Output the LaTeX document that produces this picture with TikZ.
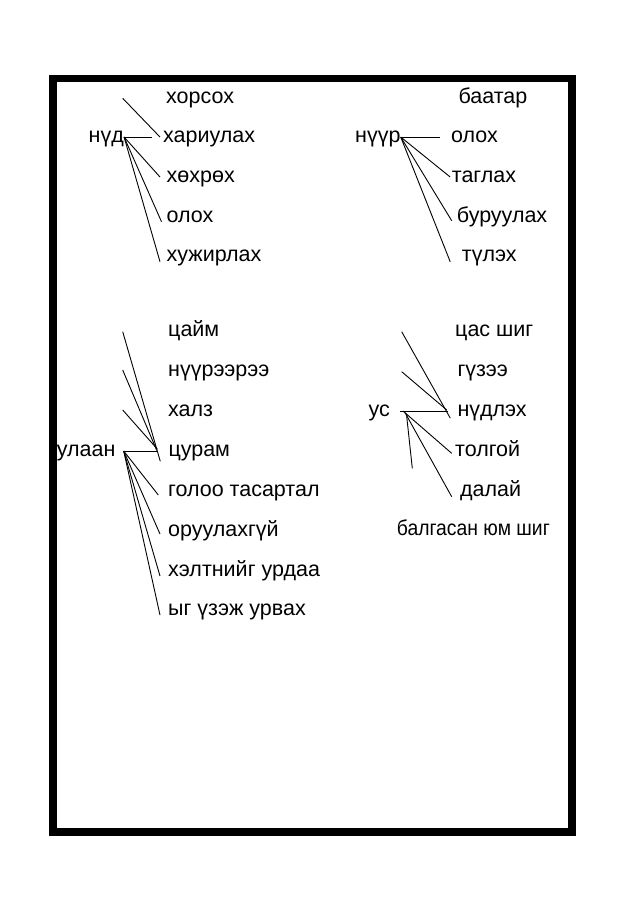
\documentclass[tikz,border=0pt]{standalone}
\usepackage{fontspec}
\setmainfont{Liberation Sans}
\usetikzlibrary{positioning}

\tikzset{
    word/.style={inner sep=0pt, anchor=base west},
    frame/.style={line width=7.5pt},
    link/.style={line width=0.9pt}
}

\begin{document}
\fontsize{21.5}{25}\selectfont
\begin{tikzpicture}[x=1pt, y=-1pt]
            \useasboundingbox (0, 0) rectangle (638, 905);
            \draw[frame] (53, 78.5) rectangle (572, 832);

            % нүд
            \node[word] (nud) at (88.5, 142.7) {нүд};
            \node[word] (xorsox) at (166, 103.3) {хорсох};
            \node[word] (xariulax) at (163, 142.7) {хариулах};
            \node[word] (xoxrox) at (166.5, 182.7) {хөхрөх};
            \node[word] (oloxA) at (166.5, 222.7) {олох};
            \node[word] (xujirlax) at (166.5, 261.7) {хужирлах};
            \coordinate (nudfree) at (122.7, 98.3);

            \draw[link] (nud.mid east) -- ([xshift=-11pt]xariulax.mid west);
            \draw[link] (nudfree) -- ([xshift=-3pt]xariulax.mid west);
            \draw[link] (nud.mid east) -- ([xshift=-6.5pt]xoxrox.mid west);
            \draw[link] (nud.mid east) -- ([xshift=-5pt, yshift=1pt]oloxA.base west);
            \draw[link] (nud.mid east) -- ([xshift=-6.5pt]xujirlax.base west);

            % нүүр
            \node[word] (nuur) at (355, 142.7) {нүүр};
            \node[word] (baatar) at (458.3, 103.3) {баатар};
            \node[word] (oloxB) at (451, 142.7) {олох};
            \node[word] (taglax) at (451.7, 182.7) {таглах};
            \node[word] (buruulax) at (456.7, 222.7) {буруулах};
            \node[word] (tulex) at (461.7, 261.7) {түлэх};

            \draw[link] (nuur.mid east) -- ([xshift=-11pt]oloxB.mid west);
            \draw[link] (nuur.mid east) -- ([xshift=-1.5pt]taglax.mid west);
            \draw[link] (nuur.mid east) -- ([xshift=-5pt, yshift=2pt]buruulax.base west);
            \draw[link] (nuur.mid east) -- ([xshift=-11.5pt]tulex.base west);

            % улаан
            \node[word] (ulaan) at (56.7, 456.7) {улаан};
            \node[word] (caim) at (168, 336.7) {цайм};
            \node[word] (nuureeree) at (168, 376.3) {нүүрээрээ};
            \node[word] (xalz) at (168, 416.7) {халз};
            \node[word] (curam) at (168.3, 456.7) {цурам};
            \node[word] (goloo) at (168, 496) {голоо тасартал};
            \node[word] (oruulax) at (168, 536) {оруулахгүй};
            \node[word] (xeltnii) at (168, 576) {хэлтнийг урдаа};
            \node[word] (yg) at (168, 615) {ыг үзэж урвах};
            \coordinate (ulaanr) at ([xshift=8pt]ulaan.mid east);
            \coordinate (ulfreeA) at (122.7, 331.7);
            \coordinate (ulfreeB) at (122.7, 370);
            \coordinate (ulfreeC) at (122.7, 410);

            \draw[link] (ulaanr) -- ([xshift=-11.5pt]curam.mid west);
            \draw[link] (ulfreeA) -- ([xshift=-8pt]curam.south west);
            \draw[link] (ulfreeB) -- ([xshift=-11.5pt, yshift=0.5pt]curam.mid west);
            \draw[link] (ulfreeC) -- ([xshift=-11pt, yshift=2pt]curam.mid west);
            \draw[link] (ulaanr) -- ([xshift=-9.7pt, yshift=1pt]goloo.base west);
            \draw[link] (ulaanr) -- ([xshift=-8pt, yshift=2pt]oruulax.base west);
            \draw[link] (ulaanr) -- ([xshift=-8pt]xeltnii.base west);
            \draw[link] (ulaanr) -- ([xshift=-8pt]yg.base west);

            % ус
            \node[word] (us) at (368.3, 416.7) {ус};
            \node[word] (cas) at (455, 336.7) {цас шиг};
            \node[word] (guzee) at (457.3, 376.7) {гүзээ};
            \node[word] (nudlex) at (457.3, 416.7) {нүдлэх};
            \node[word] (tolgoi) at (455, 456) {толгой};
            \node[word] (dalai) at (460, 496) {далай};
            \node[word, xscale=0.9, transform shape] (balgasan) at (396.7, 535.3) {балгасан юм шиг};
            \coordinate (usr) at ([xshift=10pt]us.mid east);
            \coordinate (usfreeA) at (401.7, 331.7);
            \coordinate (usfreeB) at (401.7, 371.7);
            \coordinate (usfreeC) at (412.3, 468.3);

            \draw[link] (usr) -- ([xshift=-9pt]nudlex.mid west);
            \draw[link] (usfreeA) -- ([xshift=-7pt, yshift=-1.5pt]nudlex.base west);
            \draw[link] (usfreeB) -- ([xshift=-10.5pt, yshift=1pt]nudlex.mid west);
            \draw[link] ([xshift=3pt]usr) -- ([xshift=-3.3pt, yshift=-3pt]tolgoi.mid west);
            \draw[link] ([xshift=5pt, yshift=-1.5pt]usr) -- ([xshift=-8.3pt, yshift=-0.7pt]dalai.base west);
            \draw[link] ([xshift=6.5pt, yshift=-3pt]usr) -- (usfreeC);
        \end{tikzpicture}
\end{document}
